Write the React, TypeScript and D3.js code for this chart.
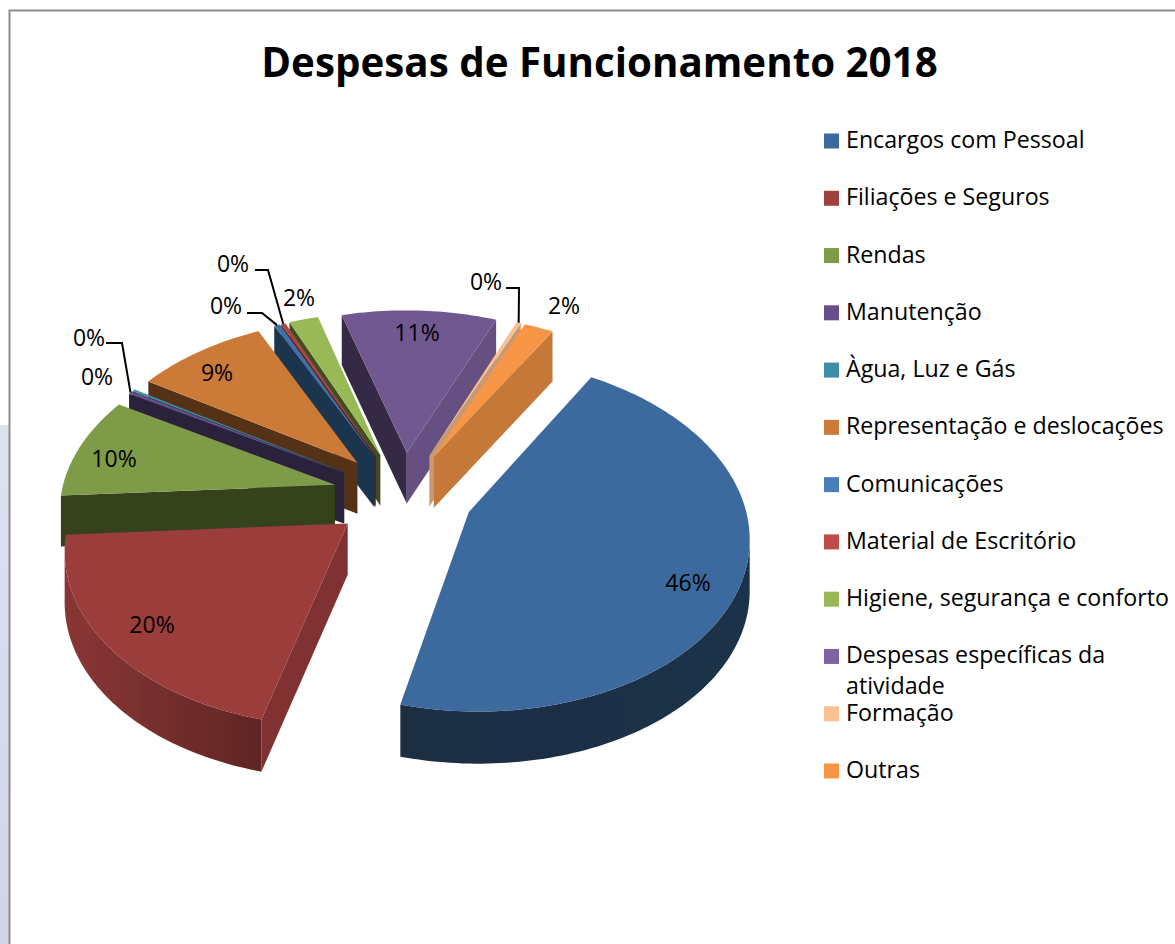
import React from 'react';
import * as d3 from 'd3';

const chartTitle = 'Despesas de Funcionamento 2018';
const categories = ['Encargos com Pessoal','Filiações e Seguros','Rendas','Manutenção','Àgua, Luz e Gás','Representação e deslocações','Comunicações','Material de Escritório','Higiene, segurança e conforto','Despesas específicas da atividade','Formação','Outras'];
const values = [45.7, 20.2, 9.6, 0.3, 0.2, 9, 0.4, 0.3, 2, 10.6, 0.3, 2];
const valueLabels = ['46%','20%','10%','0%','0%','9%','0%','0%','2%','11%','0%','2%'];
const colors = ['#3d6a9e','#a03f3d','#7e9c47','#684d8a','#3a8ea6','#cb7a38','#4a7ebb','#be4b48','#98b954','#7f63a1','#fac090','#f79646'];
const topShades = [1, 0.96, 1, 1, 1, 1, 0.9, 0.9, 1, 0.9, 1, 1];

// Layout (annotation placement, not data)
const W = 1175, H = 944;
const labelAt: [number, number][] = [[688,582],[152,624],[114,458],[89,337],[97,376],[217,372],[226,305],[233,263],[299,297],[417,332],[486,281],[564,305]];
const leaderElbow: ([number, number] | null)[] = [null,null,null,[122,343],null,null,[262,313],[268,270],null,null,[519,288],null];
const leaderStart: ([number, number] | null)[] = [null,null,null,[106,343],null,null,[247,313],[255,270],null,null,[506,288],null];
const legendLines: string[][] = categories.map(c => c === 'Despesas específicas da atividade' ? ['Despesas específicas da','atividade'] : [c]);

// Projection of the tilted, exploded pie
const cx = 403, cy = 495, focal = 274, flat = 170, persp = 0.125, explode = 0.257, depth = 51;
const startDeg = 31, sweepDeg = 359.3;
const viewerY = -1 / persp;
const project = (X: number, Y: number): [number, number] => {
  const s = 1 + persp * Y;
  return [cx + focal * X / s, cy - flat * Y / s];
};
const wallH = (Y: number) => depth * (1 - 0.02 * Y);
const facesViewer = (nx: number, ny: number, px: number, py: number) => nx * (0 - px) + ny * (viewerY - py) > 0;

const pieGen = d3.pie<number>().sort(null).startAngle(startDeg * Math.PI / 180).endAngle((startDeg + sweepDeg) * Math.PI / 180);
const arcs = pieGen(values);
const line = d3.line<[number, number]>().x(d => d[0]).y(d => d[1]);
const shade = (c: string, s: number) => d3.interpolateRgb('#000000', c)(s);

type P = [number, number];
const slices = arcs.map((a, i) => {
  const mid = (a.startAngle + a.endAngle) / 2;
  const ox = explode * Math.sin(mid), oy = explode * Math.cos(mid);
  const steps = Math.max(2, Math.ceil((a.endAngle - a.startAngle) / 0.02));
  const angles = d3.range(steps + 1).map(k => a.startAngle + (a.endAngle - a.startAngle) * k / steps);
  const rimWorld: P[] = angles.map(t => [ox + Math.sin(t), oy + Math.cos(t)] as P);
  const apexW: P = [ox, oy];
  const down = (w: P): P => { const p = project(w[0], w[1]); return [p[0], p[1] + wallH(w[1])]; };
  const apex = project(apexW[0], apexW[1]);
  const apexD = down(apexW);
  const rim = rimWorld.map(w => project(w[0], w[1]));
  const rimD = rimWorld.map(down);
  const top = line([apex, ...rim])! + 'Z';

  const visW = rimWorld.filter((w, k) => facesViewer(Math.sin(angles[k]), Math.cos(angles[k]), w[0], w[1]));
  const visTop = visW.map(w => project(w[0], w[1]));
  const visDown = visW.map(down);
  const rimBand = visW.length > 1 ? line([...visTop, ...[...visDown].reverse()])! + 'Z' : null;

  const wall = (t: number, sign: number) => {
    const nx = Math.sin(t + sign * Math.PI / 2), ny = Math.cos(t + sign * Math.PI / 2);
    const idx = sign < 0 ? 0 : rim.length - 1;
    if (!facesViewer(nx, ny, ox, oy)) return null;
    return { d: line([apex, rim[idx], rimD[idx], apexD])! + 'Z', s: nx > 0.3 ? 0.8 : 0.42 };
  };
  const startWall = wall(a.startAngle, -1);
  const endWall = wall(a.endAngle, 1);
  const midRim = project(ox + Math.sin(mid), oy + Math.cos(mid));
  return { i, mid, top, rimBand, startWall, endWall, midRim, color: colors[i] };
});
const paintOrder = [...slices].sort((p, q) => Math.cos(q.mid) - Math.cos(p.mid));
const rimLeft = [0.42, 0.86, 0.42, 0.6, 0.6, 0.6, 0.5, 0.6, 0.6, 0.6, 0.8, 0.8];
const rimRight = [0.46, 0.6, 0.42, 0.6, 0.6, 0.6, 0.5, 0.6, 0.6, 0.6, 0.8, 0.8];

const legendY = d3.scaleLinear().domain([0, categories.length - 1]).range([140, 770]);
const font = '"Open Sans", sans-serif';

export default function App() {
  return (
    <svg width={W} height={H} viewBox={`0 0 ${W} ${H}`} style={{ position: 'fixed', left: 0, top: 0, background: '#fff' }}>
      <defs>
        <linearGradient id="strip" x1="0" y1="0" x2="0" y2="1">
          <stop offset="0" stopColor="#dbe3f1" />
          <stop offset="1" stopColor="#cfd6e9" />
        </linearGradient>
        {slices.map(s => (
          <linearGradient key={s.i} id={`rim${s.i}`} x1="0" y1="0" x2="1" y2="0">
            <stop offset="0" stopColor={shade(s.color, rimLeft[s.i])} />
            <stop offset="1" stopColor={shade(s.color, rimRight[s.i])} />
          </linearGradient>
        ))}
        <filter id="soft" x="-5%" y="-5%" width="110%" height="110%"><feGaussianBlur stdDeviation="0.6" /></filter>
      </defs>
      <rect x={0} y={425} width={9} height={H - 425} fill="url(#strip)" />
      <path d={`M${W},10.5H9.5V${H}`} fill="none" stroke="#8c8c8c" strokeWidth={2} />
      <text x={599.5} y={61} textAnchor="middle" dominantBaseline="central" fontFamily={font} fontWeight={700} fontSize={40.3} fill="#000">{chartTitle}</text>

      <g filter="url(#soft)">
        {paintOrder.map(s => (
          <g key={s.i}>
            {s.startWall && <path d={s.startWall.d} fill={shade(s.color, s.startWall.s)} />}
            {s.endWall && <path d={s.endWall.d} fill={shade(s.color, s.endWall.s)} />}
            {s.rimBand && <path d={s.rimBand} fill={`url(#rim${s.i})`} />}
            <path d={s.top} fill={shade(s.color, topShades[s.i])} />
          </g>
        ))}
      </g>

      {slices.map(s => {
        const st = leaderStart[s.i], el = leaderElbow[s.i];
        return st && el ? (
          <path key={s.i} d={line([st, el, s.midRim])!} fill="none" stroke="#000" strokeWidth={2} />
        ) : null;
      })}
      {valueLabels.map((t, i) => (
        <text key={i} x={labelAt[i][0]} y={labelAt[i][1] - 0.5} textAnchor="middle" dominantBaseline="central" fontFamily={font} fontSize={23} fill="#000">{t}</text>
      ))}

      {categories.map((c, i) => {
        const y = legendY(i);
        return (
          <g key={c}>
            <rect x={824} y={y - 6.5} width={15} height={15} fill={colors[i]} />
            {legendLines[i].map((l, k) => (
              <text key={k} x={846} y={y - 1 + k * 31} dominantBaseline="central" fontFamily={font} fontSize={23.2} fill="#000">{l}</text>
            ))}
          </g>
        );
      })}
    </svg>
  );
}
